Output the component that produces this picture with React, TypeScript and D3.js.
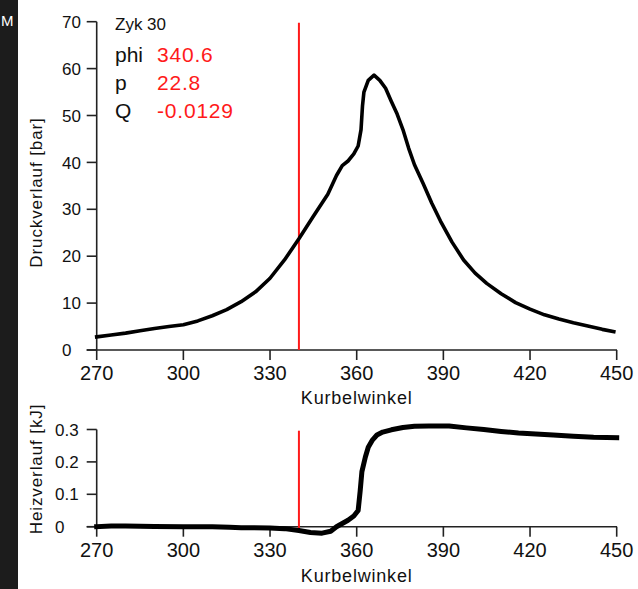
import React from "react";
import * as d3 from "d3";

// Crank angle (deg) and cylinder pressure (bar)
const pAngle = [270, 275, 280, 285, 290, 295, 300, 305, 310, 315, 320, 325, 330, 335, 340, 345, 350, 353, 355, 357, 359, 360.5, 361.5, 362, 362.5, 364, 366, 368, 370, 372, 374, 376, 378, 380, 383, 386, 389, 393, 397, 401, 405, 410, 415, 420, 425, 430, 435, 440, 445, 449];
const pValue = [2.8, 3.2, 3.6, 4.1, 4.6, 5.0, 5.4, 6.2, 7.3, 8.6, 10.3, 12.4, 15.3, 19.2, 23.7, 28.5, 33.2, 37.2, 39.3, 40.3, 41.8, 43.5, 47, 52, 55, 57.5, 58.6, 57.5, 55.8, 53, 50.3, 47, 43, 39.5, 35.5, 31.3, 27.5, 23, 19.2, 16.4, 14.2, 12, 10.1, 8.7, 7.5, 6.6, 5.8, 5.1, 4.4, 3.9];

// Crank angle (deg) and heat release (kJ)
const qAngle = [270, 275, 280, 290, 300, 310, 316, 320, 330, 335, 340, 344, 348, 351, 353, 355, 357, 359, 360.5, 361.2, 361.8, 363, 364, 365.5, 367, 369, 372, 376, 380, 385, 392, 398, 404, 410, 416, 422, 428, 435, 442, 450];
const qValue = [0.0, 0.002, 0.002, 0.001, 0.0, 0.0, -0.002, -0.003, -0.004, -0.006, -0.012, -0.018, -0.02, -0.014, 0.0, 0.01, 0.02, 0.033, 0.05, 0.11, 0.17, 0.215, 0.245, 0.268, 0.283, 0.292, 0.299, 0.306, 0.31, 0.311, 0.311, 0.305, 0.3, 0.294, 0.289, 0.286, 0.283, 0.279, 0.276, 0.275];

const xTicks = [270, 300, 330, 360, 390, 420, 450];
const pTicks = [0, 10, 20, 30, 40, 50, 60, 70];
const qTicks = [0, 0.1, 0.2, 0.3];
const qTickLabels = ["0", "0.1", "0.2", "0.3"];

const cursorPhi = 340;
const infoLabels = ["phi", "p", "Q"];
const infoValues = ["340.6", "22.8", "-0.0129"];
const cycleLabel = "Zyk 30";

const FONT = "'Liberation Sans', Arial, sans-serif";

export default function App() {
  const x = d3.scaleLinear().domain([270, 450]).range([96.7, 616.7]);
  const yP = d3.scaleLinear().domain([0, 70]).range([350, 21.7]);
  const yQ = d3.scaleLinear().domain([0, 0.3]).range([526.7, 429.5]);

  const pLine = d3
    .line<number>()
    .x((_, i) => x(pAngle[i]))
    .y((d) => yP(d))(pValue);
  const qLine = d3
    .line<number>()
    .x((_, i) => x(qAngle[i]))
    .y((d) => yQ(d))(qValue);

  const axisColor = "#222";

  const renderXAxis = (y0: number, labelBase: number, titleBase: number) => (
    <g>
      <line x1={86.7} x2={617} y1={y0} y2={y0} stroke={axisColor} strokeWidth={1.6} />
      {xTicks.map((t) => (
        <g key={t}>
          <line x1={x(t)} x2={x(t)} y1={y0} y2={y0 + 10} stroke={axisColor} strokeWidth={1.6} />
          <text x={x(t)} y={labelBase} textAnchor="middle" fontSize={20} fontFamily={FONT} fill="#111">
            {t}
          </text>
        </g>
      ))}
      <text x={356.7} y={titleBase} textAnchor="middle" fontSize={18} letterSpacing={0.8} fontFamily={FONT} fill="#111">
        Kurbelwinkel
      </text>
    </g>
  );

  return (
    <svg width={638} height={589} style={{ position: "absolute", left: 0, top: 0, background: "#fff" }}>
      <rect x={0} y={0} width={638} height={589} fill="#fff" />
      <rect x={0} y={0} width={18} height={589} fill="#1c1c1c" />
      <text x={1} y={26} fontSize={15} fontFamily={FONT} fill="#fff">M</text>

      {/* Top chart */}
      <line x1={96.7} x2={96.7} y1={21.7} y2={350} stroke={axisColor} strokeWidth={1.6} />
      {pTicks.map((t) => (
        <g key={t}>
          <line x1={86.7} x2={96.7} y1={yP(t)} y2={yP(t)} stroke={axisColor} strokeWidth={1.6} />
          <text x={62} y={yP(t)} dy="0.36em" fontSize={17} fontFamily={FONT} fill="#111">
            {t}
          </text>
        </g>
      ))}
      {renderXAxis(350, 380, 404)}
      <text
        transform="translate(42,192.5) rotate(-90)"
        textAnchor="middle"
        fontSize={17}
        letterSpacing={0.9}
        fontFamily={FONT}
        fill="#111"
      >
        Druckverlauf [bar]
      </text>

      <line x1={x(cursorPhi)} x2={x(cursorPhi)} y1={22.7} y2={350} stroke="#ff1a1a" strokeWidth={2} />
      <path d={pLine || ""} fill="none" stroke="#000" strokeWidth={3.6} strokeLinejoin="round" strokeLinecap="square" />

      <text x={115} y={30} fontSize={17} fontFamily={FONT} fill="#111">{cycleLabel}</text>
      {infoLabels.map((l, i) => (
        <g key={l}>
          <text x={115} y={62 + i * 28} fontSize={21} fontFamily={FONT} fill="#111">{l}</text>
          <text x={157} y={62 + i * 28} fontSize={21} letterSpacing={0.8} fontFamily={FONT} fill="#ff1a1a">{infoValues[i]}</text>
        </g>
      ))}

      {/* Bottom chart */}
      <line x1={96.7} x2={96.7} y1={429.5} y2={526.7} stroke={axisColor} strokeWidth={1.6} />
      {qTicks.map((t, i) => (
        <g key={t}>
          <line x1={86.7} x2={96.7} y1={yQ(t)} y2={yQ(t)} stroke={axisColor} strokeWidth={1.6} />
          <text x={55} y={yQ(t)} dy="0.36em" fontSize={17} fontFamily={FONT} fill="#111">
            {qTickLabels[i]}
          </text>
        </g>
      ))}
      {renderXAxis(526.7, 557, 582)}
      <text
        transform="translate(42,469) rotate(-90)"
        textAnchor="middle"
        fontSize={17}
        letterSpacing={0.9}
        fontFamily={FONT}
        fill="#111"
      >
        Heizverlauf [kJ]
      </text>
      <line x1={x(cursorPhi)} x2={x(cursorPhi)} y1={430.7} y2={528} stroke="#ff1a1a" strokeWidth={2} />
      <path d={qLine || ""} fill="none" stroke="#000" strokeWidth={5} strokeLinejoin="round" strokeLinecap="square" />
    </svg>
  );
}
